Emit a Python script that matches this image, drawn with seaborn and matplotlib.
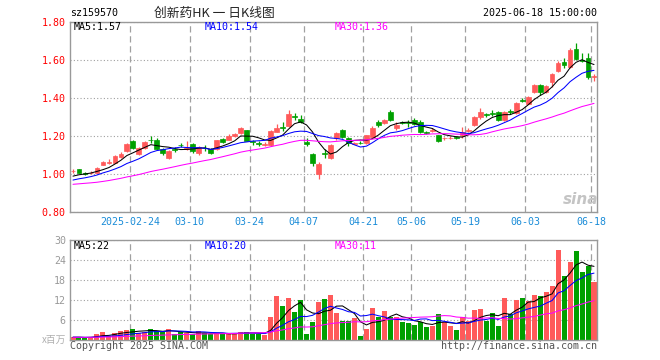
import numpy as np
import pandas as pd
import seaborn as sns
import matplotlib.pyplot as plt

code = 'sz159570'
title = '创新药HK 一 日K线图'
stamp = '2025-06-18 15:00:00'

holidays = ['2025-04-04', '2025-05-01', '2025-05-02', '2025-05-05', '2025-06-02']
dates = pd.bdate_range('2025-02-10', '2025-06-18')
dates = dates[~dates.isin(pd.to_datetime(holidays))]

open_ = [1.012, 1.024, 1.003, 1.002, 1.006, 1.048, 1.058, 1.058, 1.090, 1.117,
         1.174, 1.105, 1.135, 1.178, 1.175, 1.128, 1.080, 1.130, 1.152, 1.132,
         1.156, 1.107, 1.137, 1.130, 1.130, 1.185, 1.180, 1.198, 1.215, 1.229,
         1.170, 1.162, 1.152, 1.150, 1.222, 1.245, 1.250, 1.302, 1.290, 1.165,
         1.104, 1.000, 1.108, 1.080, 1.188, 1.229, 1.190, 1.158, 1.162, 1.160,
         1.194, 1.273, 1.267, 1.325, 1.238, 1.270, 1.270, 1.285, 1.273, 1.217,
         1.226, 1.203, 1.186, 1.188, 1.193, 1.203, 1.226, 1.256, 1.296, 1.312,
         1.318, 1.325, 1.283, 1.328, 1.318, 1.388, 1.369, 1.430, 1.465, 1.430,
         1.482, 1.540, 1.590, 1.560, 1.657, 1.600, 1.610, 1.510]
high = [1.025, 1.026, 1.008, 1.012, 1.035, 1.068, 1.075, 1.097, 1.115, 1.160,
        1.178, 1.140, 1.170, 1.200, 1.190, 1.135, 1.125, 1.140, 1.160, 1.170,
        1.160, 1.145, 1.150, 1.135, 1.180, 1.190, 1.208, 1.215, 1.245, 1.232,
        1.180, 1.170, 1.165, 1.228, 1.260, 1.270, 1.334, 1.320, 1.310, 1.190,
        1.110, 1.064, 1.130, 1.155, 1.218, 1.235, 1.195, 1.165, 1.170, 1.205,
        1.250, 1.285, 1.290, 1.335, 1.270, 1.275, 1.285, 1.295, 1.280, 1.225,
        1.240, 1.205, 1.195, 1.200, 1.198, 1.245, 1.240, 1.305, 1.345, 1.320,
        1.335, 1.330, 1.330, 1.340, 1.375, 1.400, 1.410, 1.470, 1.470, 1.465,
        1.530, 1.595, 1.610, 1.660, 1.686, 1.635, 1.633, 1.525]
low = [1.005, 1.004, 0.995, 0.998, 1.003, 1.045, 1.050, 1.055, 1.085, 1.112,
       1.128, 1.100, 1.130, 1.160, 1.125, 1.100, 1.075, 1.115, 1.140, 1.125,
       1.110, 1.100, 1.120, 1.105, 1.125, 1.160, 1.175, 1.195, 1.210, 1.170,
       1.150, 1.145, 1.145, 1.145, 1.218, 1.225, 1.245, 1.280, 1.265, 1.145,
       1.040, 0.970, 1.085, 1.075, 1.180, 1.190, 1.145, 1.155, 1.155, 1.155,
       1.190, 1.248, 1.262, 1.278, 1.232, 1.260, 1.245, 1.255, 1.215, 1.210,
       1.220, 1.168, 1.180, 1.183, 1.185, 1.190, 1.220, 1.250, 1.290, 1.300,
       1.305, 1.275, 1.275, 1.315, 1.315, 1.375, 1.365, 1.425, 1.415, 1.425,
       1.455, 1.535, 1.555, 1.555, 1.600, 1.590, 1.500, 1.490]
close = [1.016, 1.006, 1.001, 1.005, 1.032, 1.062, 1.062, 1.093, 1.105, 1.156,
         1.133, 1.135, 1.165, 1.175, 1.130, 1.108, 1.120, 1.127, 1.150, 1.135,
         1.120, 1.140, 1.135, 1.110, 1.177, 1.168, 1.200, 1.210, 1.238, 1.173,
         1.165, 1.158, 1.155, 1.225, 1.238, 1.240, 1.315, 1.298, 1.272, 1.158,
         1.055, 1.050, 1.105, 1.150, 1.212, 1.194, 1.160, 1.161, 1.160, 1.203,
         1.238, 1.256, 1.285, 1.282, 1.256, 1.267, 1.266, 1.260, 1.220, 1.214,
         1.230, 1.173, 1.190, 1.190, 1.190, 1.220, 1.230, 1.300, 1.325, 1.309,
         1.315, 1.280, 1.325, 1.325, 1.372, 1.385, 1.404, 1.465, 1.430, 1.460,
         1.526, 1.580, 1.570, 1.650, 1.605, 1.595, 1.508, 1.515]
# volume in millions
volume = [0.9, 0.8, 0.5, 1.0, 1.8, 2.4, 1.2, 2.0, 2.7, 3.0,
          3.3, 2.2, 2.5, 3.3, 2.7, 2.3, 3.3, 1.8, 2.3, 2.0,
          1.7, 2.7, 2.0, 1.8, 2.0, 1.7, 1.8, 2.0, 2.5, 2.5,
          1.8, 1.8, 1.5, 6.8, 13.2, 10.2, 12.6, 8.5, 12.0, 1.9,
          5.5, 11.5, 12.3, 13.5, 8.0, 5.8, 5.8, 6.5, 1.2, 3.3,
          9.6, 6.8, 8.7, 7.0, 6.8, 5.5, 5.1, 4.5, 5.5, 3.9,
          4.3, 7.8, 5.5, 4.3, 3.0, 6.8, 5.8, 9.0, 9.3, 5.8,
          8.1, 4.2, 12.6, 7.8, 12.0, 12.6, 11.8, 13.5, 13.2, 14.5,
          16.2, 27.0, 19.2, 23.5, 26.7, 20.5, 22.3, 17.5]

# sessions before the window, only feed the moving averages
prior_close = [0.93, 0.92, 0.93, 0.94, 0.93, 0.92, 0.92, 0.93, 0.94, 0.95,
               0.94, 0.93, 0.93, 0.94, 0.93, 0.92, 0.93, 0.94, 0.94, 0.95,
               0.94, 0.95, 0.94, 0.95, 0.95, 0.97, 0.98, 0.98, 0.99]
prior_volume = [0.9, 0.7, 0.8, 1.0, 0.8, 0.7, 0.9, 0.8, 0.6, 0.8,
                0.9, 0.7, 0.8, 0.8, 1.0, 0.9, 0.7, 0.8, 0.8, 0.9,
                0.7, 0.8, 0.9, 0.8, 0.7, 0.8, 0.9, 0.8, 0.8]

tick_dates = ['2025-02-24', '2025-03-10', '2025-03-24', '2025-04-07', '2025-04-21',
              '2025-05-06', '2025-05-19', '2025-06-03', '2025-06-18']
price_ticks = [0.8, 1.0, 1.2, 1.4, 1.6, 1.8]
vol_ticks = [6, 12, 18, 24, 30]
ma_windows = [5, 10, 30]
ma_colors = ['black', '#0000ff', '#ff00ff']
price_ma_text = ['MA5:1.57', 'MA10:1.54', 'MA30:1.36']
vol_ma_text = ['MA5:22', 'MA10:20', 'MA30:11']

UP = '#ff5a5a'
DOWN = '#00a000'
FRAME = '#999999'
MONO = 'DejaVu Sans Mono'

sns.set_style('white')
plt.rcParams['font.family'] = [MONO, 'Noto Sans CJK SC']

df = pd.DataFrame({'open': open_, 'high': high, 'low': low, 'close': close,
                   'volume': volume}, index=dates)
df['x'] = np.arange(len(df)) + 0.5
df['color'] = np.where(df['close'] >= df['open'], UP, DOWN)
n_prior = len(prior_close)
full_close = pd.Series(prior_close + close)
full_vol = pd.Series(prior_volume + volume)
tick_pos = [dates.get_loc(pd.Timestamp(d)) for d in tick_dates]
tick_lab = [tick_dates[0]] + [d[5:] for d in tick_dates[1:]]

W, H = 660, 360
fig = plt.figure(figsize=(W / 100, H / 100), dpi=100)
ax = fig.add_axes([70 / W, 1 - 211.7 / H, 527 / W, 190 / H])
axv = fig.add_axes([70 / W, 1 - 340 / H, 527 / W, 100 / H])

for a in (ax, axv):
    a.set_xlim(0, len(df))
    for s in a.spines.values():
        s.set_color(FRAME)
        s.set_linewidth(1)
    a.set_xticks(tick_pos)
    a.xaxis.grid(True, color='#a0a0a0', linestyle=(0, (5, 3)), linewidth=0.9)
    a.yaxis.grid(True, color='#a0a0a0', linestyle=(0, (1, 2)), linewidth=0.8)
    a.set_axisbelow(True)

# candles
ax.vlines(df['x'], df['low'], df['high'], colors=df['color'], linewidth=0.9)
body_lo = df[['open', 'close']].min(axis=1)
body_h = (df['close'] - df['open']).abs().clip(lower=0.001)
ax.bar(df['x'], body_h, bottom=body_lo, width=0.8, color=df['color'],
       edgecolor=df['color'], linewidth=0.5)
for n, c in zip(ma_windows, ma_colors):
    ma = full_close.rolling(n).mean().iloc[n_prior:].to_numpy()
    sns.lineplot(x=df['x'].to_numpy(), y=ma, color=c, linewidth=0.75, ax=ax)
ax.set_ylim(0.8, 1.8)
ax.set_yticks(price_ticks)
ax.set_yticklabels([f'{v:.2f}' for v in price_ticks])
ax.set_xticklabels(tick_lab)
ax.tick_params(axis='y', length=0, pad=3, labelcolor='#ff0000', labelsize=7.2)
ax.tick_params(axis='x', length=0, pad=3.5, labelcolor='#1a8cd8', labelsize=7.2)
ax.set_xlabel('')
ax.set_ylabel('')

# volume
axv.bar(df['x'], df['volume'], width=0.84, color=df['color'], linewidth=0)
for n, c in zip(ma_windows, ma_colors):
    ma = full_vol.rolling(n).mean().iloc[n_prior:].to_numpy()
    sns.lineplot(x=df['x'].to_numpy(), y=ma, color=c, linewidth=0.75, ax=axv)
axv.set_ylim(0, 30)
axv.set_yticks(vol_ticks)
axv.set_yticklabels([str(v) for v in vol_ticks])
axv.set_xticklabels([])
axv.tick_params(axis='y', length=0, pad=3, labelcolor='#999999', labelsize=7.2)
axv.tick_params(axis='x', length=0)
axv.set_xlabel('')
axv.set_ylabel('')


def put(x, y, s, **kw):
    kw.setdefault('fontsize', 7.2)
    kw.setdefault('va', 'center')
    fig.text(x / W, 1 - y / H, s, **kw)


put(70, 13, code, color='black')
put(214, 13, title, ha='center', fontsize=9.2, family=['Noto Sans CJK SC', MONO])
put(597, 13, stamp, ha='right', color='black')
for x0, s, c in zip([74, 205, 335], price_ma_text, ma_colors):
    put(x0, 27, s, color=c)
for x0, s, c in zip([74, 205, 335], vol_ma_text, ma_colors):
    put(x0, 246, s, color=c)
put(66, 340, 'x百万', ha='right', color='#b0b0b0', fontsize=7,
    family=['Noto Sans CJK SC', MONO], style='italic')
put(70, 346, 'Copyright 2025 SINA.COM', color='#555555')
put(597, 346, 'http://finance.sina.com.cn', ha='right', color='#555555')
put(581, 200, 'sina', ha='center', color='#c4c4c4', fontsize=11,
    fontweight='bold', style='italic', family=['DejaVu Sans'])

fig.savefig('out.png', dpi=100)
